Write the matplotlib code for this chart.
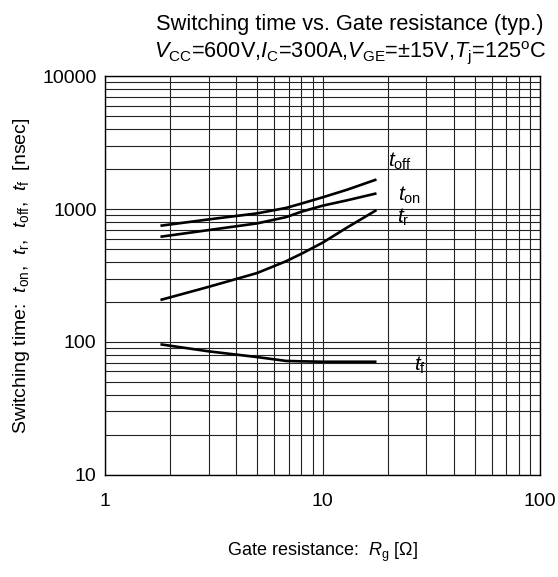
import numpy as np
import matplotlib
matplotlib.use("Agg")
import matplotlib.pyplot as plt
from matplotlib.ticker import LogLocator, NullFormatter, FixedLocator, FixedFormatter

plt.rcParams["font.family"] = ["Liberation Sans", "DejaVu Sans"]
plt.rcParams["mathtext.fontset"] = "custom"
plt.rcParams["mathtext.rm"] = "Liberation Sans"
plt.rcParams["mathtext.it"] = "Liberation Sans:italic"

# gate resistance [ohm]
rg = [1.8, 3, 5, 6.8, 8, 10, 13, 17.7]
# switching times [nsec]
t_off = [749, 836, 928, 1020, 1100, 1225, 1400, 1670]
t_on = [619, 695, 780, 870, 955, 1060, 1165, 1312]
t_r = [207, 260, 330, 405, 461, 558, 728, 983]
t_f = [96, 85, 77, 72, 71.5, 71, 71, 71]

xticks = [1, 10, 100]
yticks = [10, 100, 1000, 10000]

fig = plt.figure(figsize=(5.58, 5.77), dpi=100)
ax = fig.add_axes([0.188, 0.177, 0.78, 0.691])

for y in (t_off, t_on, t_r, t_f):
    ax.plot(rg, y, color="black", lw=1.9, solid_capstyle="butt")

ax.set_xscale("log")
ax.set_yscale("log")
ax.set_xlim(1, 100)
ax.set_ylim(10, 10000)

ax.xaxis.set_major_locator(FixedLocator(xticks))
ax.xaxis.set_major_formatter(FixedFormatter([str(v) for v in xticks]))
ax.yaxis.set_major_locator(FixedLocator(yticks))
ax.yaxis.set_major_formatter(FixedFormatter([str(v) for v in yticks]))
ax.xaxis.set_minor_locator(LogLocator(base=10, subs=np.arange(2, 10)))
ax.yaxis.set_minor_locator(LogLocator(base=10, subs=np.arange(2, 10)))
ax.xaxis.set_minor_formatter(NullFormatter())
ax.yaxis.set_minor_formatter(NullFormatter())

ax.grid(True, which="both", color="#222222", lw=0.8)
ax.tick_params(which="both", length=0, labelsize=14)
ax.tick_params(axis="x", pad=13)
ax.tick_params(axis="y", pad=6)
for s in ax.spines.values():
    s.set_linewidth(1.0)

ax.text(20, 2070, "$t_{\\mathrm{off}}$", fontsize=15, va="baseline")
ax.text(22.3, 1150, "$t_{\\mathrm{on}}$", fontsize=15, va="baseline")
ax.text(22, 785, "$t_{\\mathrm{r}}$", fontsize=15, va="baseline")
ax.text(26.4, 61, "$t_{\\mathrm{f}}$", fontsize=15, va="baseline")

ax.set_xlabel("Gate resistance:  $R_{\\mathrm{g}}$ [Ω]", fontsize=13, labelpad=22)
ax.set_ylabel("Switching time:  $t_{\\mathrm{on}}$,  $t_{\\mathrm{r}}$,  $t_{\\mathrm{off}}$,  $t_{\\mathrm{f}}$  [nsec]",
              fontsize=14, labelpad=7)

fig.text(0.627, 0.958, "Switching time vs. Gate resistance (typ.)", fontsize=15.7,
         ha="center", va="center")
fig.text(0.627, 0.909,
         "$V_{\\mathrm{CC}}$=600V,$I_{\\mathrm{C}}$=300A,$V_{\\mathrm{GE}}$=±15V,$T_{\\mathrm{j}}$=125$^{\\mathrm{o}}$C",
         fontsize=15.7, ha="center", va="center")

fig.savefig("out.png", dpi=100)
